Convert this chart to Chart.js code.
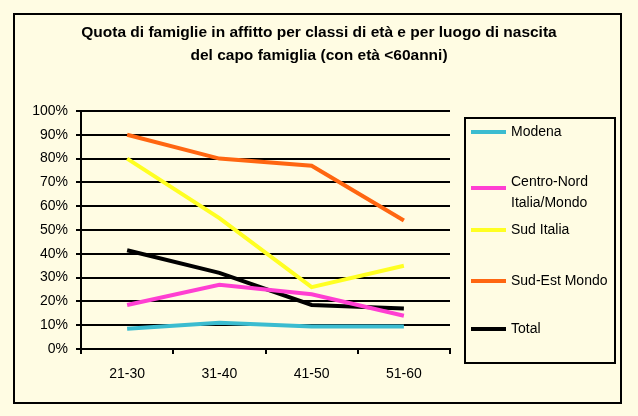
<!DOCTYPE html>
<html><head><meta charset="utf-8">
<script src="https://cdn.jsdelivr.net/npm/chart.js@4"></script>
<style>html,body{margin:0;padding:0;background:#FFFCE3;}#wrap{width:638px;height:416px;}</style>
</head><body><div id="wrap"><canvas id="c" width="638" height="416"></canvas></div>
<script>
const categories = ["21-30", "31-40", "41-50", "51-60"];
const modena = [8.5, 11, 9.5, 9.5];
const centroNord = [18.5, 27, 23, 14];
const sudItalia = [80, 55, 26, 35];
const sudEstMondo = [90, 80, 77, 54];
const total = [41.5, 32, 18.5, 17];
const seriesLabels = ["Modena", ["Centro-Nord", "Italia/Mondo"], "Sud Italia", "Sud-Est Mondo", "Total"];
const seriesColors = ["#3BBCD0", "#FF3FD2", "#FFFF22", "#FF6611", "#000000"];
const titleLines = ["Quota di famiglie in affitto per classi di età e per luogo di nascita", "del capo famiglia (con età <60anni)"];
const yTicks = [0,10,20,30,40,50,60,70,80,90,100];

const seriesData = [modena, centroNord, sudItalia, sudEstMondo, total];
const FONT = '"Liberation Sans", Arial, sans-serif';

const decor = {
  id: 'decor',
  beforeDraw(chart) {
    const ctx = chart.ctx;
    ctx.save();
    ctx.fillStyle = '#FFFCE3';
    ctx.fillRect(0, 0, chart.width, chart.height);
    ctx.strokeStyle = '#000';
    ctx.lineWidth = 2;
    ctx.strokeRect(14, 14, 607, 389);
    ctx.fillStyle = '#000';
    ctx.font = 'bold 15.5px ' + FONT;
    ctx.textAlign = 'center';
    ctx.textBaseline = 'middle';
    ctx.fillText(titleLines[0], 319, 33);
    ctx.fillText(titleLines[1], 319, 56);
    ctx.restore();
  },
  afterDraw(chart) {
    const ctx = chart.ctx;
    ctx.save();
    ctx.strokeStyle = '#000';
    ctx.lineWidth = 2;
    ctx.strokeRect(465, 118, 150, 245);
    const ys = [132, 188, 230, 281, 329];
    ctx.font = '14px ' + FONT;
    ctx.textBaseline = 'middle';
    ctx.textAlign = 'left';
    chart.data.datasets.forEach((ds, i) => {
      ctx.strokeStyle = ds.borderColor;
      ctx.lineWidth = 4;
      ctx.beginPath();
      ctx.moveTo(471, ys[i]);
      ctx.lineTo(506, ys[i]);
      ctx.stroke();
      ctx.fillStyle = '#000';
      const lines = seriesLabels[i];
      if (Array.isArray(lines)) {
        ctx.fillText(lines[0], 511, ys[i] - 6);
        ctx.fillText(lines[1], 511, ys[i] + 15);
      } else {
        ctx.fillText(lines, 511, ys[i]);
      }
    });
    ctx.restore();
  }
};

new Chart(document.getElementById('c'), {
  type: 'line',
  data: {
    labels: categories,
    datasets: seriesData.map((d, i) => ({
      label: Array.isArray(seriesLabels[i]) ? seriesLabels[i].join(' ') : seriesLabels[i],
      data: d,
      borderColor: seriesColors[i],
      backgroundColor: seriesColors[i],
      borderWidth: 4,
      pointRadius: 0,
      tension: 0,
      fill: false
    }))
  },
  options: {
    responsive: false,
    animation: false,
    devicePixelRatio: 1,
    layout: { padding: { left: 0, top: 111, right: 188, bottom: 0 } },
    plugins: { legend: { display: false }, title: { display: false }, tooltip: { enabled: false } },
    scales: {
      x: {
        offset: true,
        grid: { offset: true, drawOnChartArea: false, drawTicks: true, tickLength: 5, color: '#000', lineWidth: 2 },
        border: { color: '#000', width: 2 },
        ticks: { color: '#000', font: { family: FONT, size: 14 }, padding: 12 },
        afterFit(s) { s.height = 67; }
      },
      y: {
        min: 0, max: 100,
        afterBuildTicks(s) { s.ticks = yTicks.map(v => ({ value: v })); },
        grid: { color: '#000', lineWidth: 2, tickLength: 5 },
        border: { color: '#000', width: 2 },
        ticks: { color: '#000', font: { family: FONT, size: 14 }, padding: 8, callback: v => v + '%' },
        afterFit(s) { s.width = 81; }
      }
    }
  },
  plugins: [decor]
});
</script>
</body></html>
